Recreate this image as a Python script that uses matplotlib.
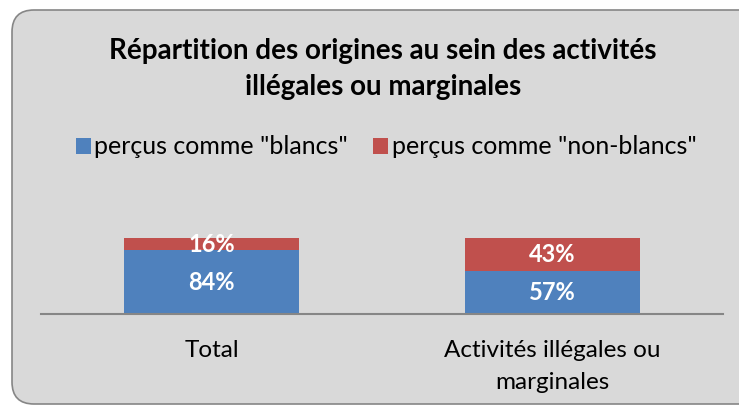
import matplotlib.pyplot as plt
import numpy as np
from matplotlib.patches import FancyBboxPatch

categories = ["Total", "Activités illégales ou\nmarginales"]
blancs = [84, 57]
non_blancs = [16, 43]
series_names = ['perçus comme "blancs"', 'perçus comme "non-blancs"']
title = "Répartition des origines au sein des activités\nillégales ou marginales"

plt.rcParams["font.family"] = ["Lato", "DejaVu Sans"]

W, H = 739, 407
fig = plt.figure(figsize=(W / 100, H / 100), dpi=100)
fig.patch.set_facecolor("white")

# background panel (pixel coords)
bg = fig.add_axes([0, 0, 1, 1])
bg.set_xlim(0, W)
bg.set_ylim(H, 0)
bg.axis("off")
panel = FancyBboxPatch((12, 10), 760, 394, boxstyle="round,pad=0,rounding_size=22",
                       facecolor="#D9D9D9", edgecolor="#868686", linewidth=1.2)
bg.add_patch(panel)
bg.text(383, 69, title, ha="center", va="center", fontsize=20, fontweight="bold",
        linespacing=1.48, color="#000000")

# chart area: axis from x=41 to 723, baseline y=314, top y=238
left, right, top, base = 41, 723, 238, 314
ax = fig.add_axes([left / W, 1 - base / H, (right - left) / W, (base - top) / H])
ax.patch.set_alpha(0)

x = np.arange(len(categories))
width = 0.516
b1 = ax.bar(x, blancs, width, color="#4F81BD", label=series_names[0])
b2 = ax.bar(x, non_blancs, width, bottom=blancs, color="#C0504D", label=series_names[1])

ax.set_xlim(-0.5, 1.5)
ax.set_ylim(0, 100)
ax.set_yticks([])
for s in ["top", "right", "left"]:
    ax.spines[s].set_visible(False)
ax.spines["bottom"].set_color("#868686")
ax.spines["bottom"].set_linewidth(1.5)
ax.set_xticks(x)
ax.set_xticklabels(categories, fontsize=17.5, color="#000000", linespacing=1.6)
ax.tick_params(axis="x", length=0, pad=19)

for bars in (b1, b2):
    ax.bar_label(bars, labels=[f"{v:.0f}%" for v in bars.datavalues], label_type="center",
                 color="white", fontsize=17, fontweight="bold")

fig.legend(handles=[b1, b2], loc="center", bbox_to_anchor=(386 / W, 1 - 147 / H), ncol=2,
           frameon=False, fontsize=18, handlelength=0.6, handleheight=0.6,
           handletextpad=0.15, columnspacing=1.0)

plt.savefig("out.png", dpi=100)
